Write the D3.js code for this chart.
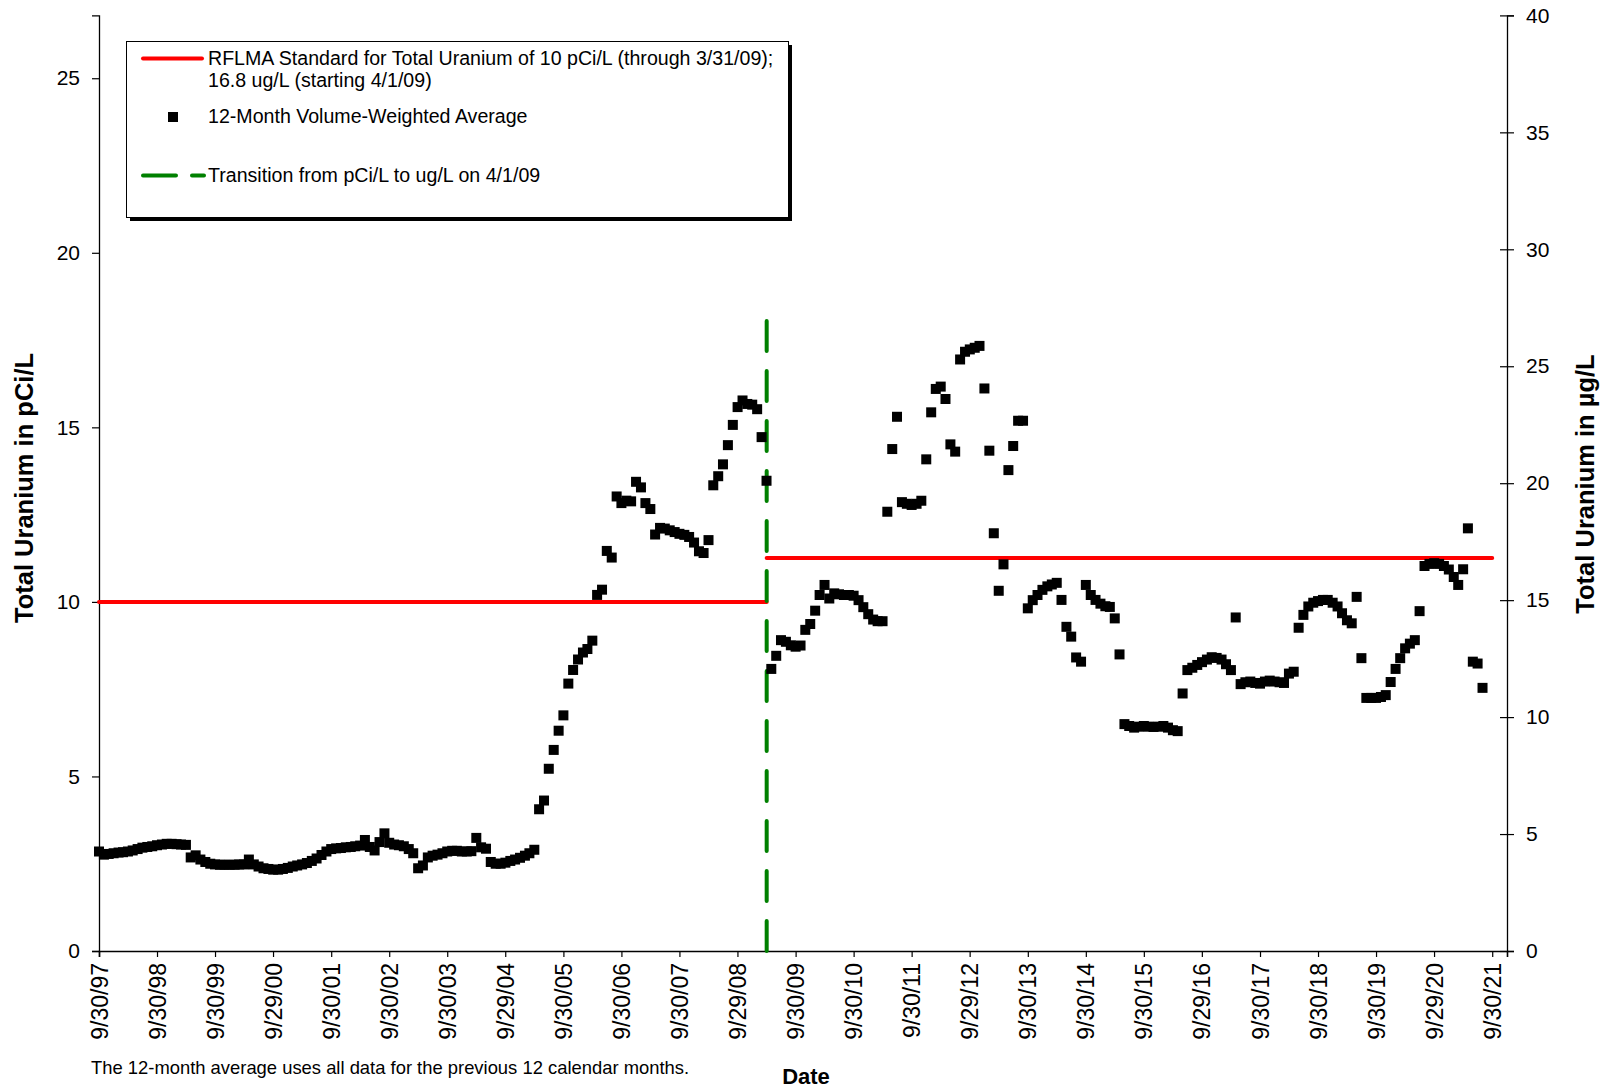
<!DOCTYPE html>
<html>
<head>
<meta charset="utf-8">
<script src="https://cdn.jsdelivr.net/npm/d3@7"></script>
<style>
  body { margin: 0; background: #fff; }
  svg { display: block; font-family: "Liberation Sans", Arial, sans-serif; }
</style>
</head>
<body>
<svg width="1610" height="1090"></svg>
<script>
// 12-month volume-weighted averages, one per month-end, first point 9/30/97
var firstYear = 1997
var firstMonth = 9 // september

// pCi/L, 9/30/97 through 3/31/09
var pciValues = [
  2.85, 2.76, 2.78, 2.80, 2.82, 2.83, 2.85, 2.88, 2.92, 2.96,
  2.98, 3.00, 3.03, 3.05, 3.07, 3.07, 3.06, 3.05, 3.04, 2.68,
  2.74, 2.62, 2.55, 2.50, 2.48, 2.47, 2.47, 2.47, 2.47, 2.48,
  2.48, 2.62, 2.48, 2.42, 2.37, 2.35, 2.33, 2.33, 2.35, 2.38,
  2.42, 2.45, 2.48, 2.52, 2.58, 2.65, 2.75, 2.85, 2.92, 2.94,
  2.95, 2.97, 2.98, 3.00, 3.02, 3.18, 2.98, 2.88, 3.12, 3.37,
  3.10, 3.05, 3.03, 3.00, 2.92, 2.80, 2.37, 2.45, 2.68, 2.73,
  2.76, 2.80, 2.85, 2.87, 2.87, 2.85, 2.85, 2.86, 3.24, 2.97,
  2.93, 2.55, 2.50, 2.50, 2.53, 2.58, 2.62, 2.67, 2.73, 2.80,
  2.90, 4.06, 4.31, 5.22, 5.76, 6.31, 6.75, 7.66, 8.05, 8.35,
  8.55, 8.65, 8.89, 10.20, 10.35, 11.46, 11.27, 13.02, 12.83, 12.90,
  12.88, 13.44, 13.28, 12.83, 12.66, 11.93, 12.12, 12.10, 12.05, 12.00,
  11.95, 11.92, 11.86, 11.70, 11.45, 11.40, 11.77, 13.34, 13.60, 13.94,
  14.49, 15.07, 15.58, 15.77, 15.67, 15.65, 15.52, 14.72, 13.47
]

// ug/L, 4/30/09 onward
var ugValues = [
  12.06, 12.62, 13.29, 13.22, 13.07, 13.01, 13.06, 13.73, 13.98, 14.55,
  15.22, 15.65, 15.07, 15.29, 15.25, 15.22, 15.22, 15.19, 15.00, 14.70,
  14.40, 14.17, 14.10, 14.10, 18.78, 21.46, 22.84, 19.19, 19.12, 19.07,
  19.12, 19.25, 21.02, 23.03, 24.03, 24.13, 23.60, 21.66, 21.35, 25.29,
  25.62, 25.72, 25.79, 25.87, 24.05, 21.39, 17.86, 15.40, 16.53, 20.56,
  21.59, 22.67, 22.67, 14.65, 15.00, 15.22, 15.44, 15.59, 15.67, 15.74,
  15.01, 13.86, 13.44, 12.55, 12.37, 15.65, 15.22, 15.01, 14.85, 14.74,
  14.71, 14.22, 12.68, 9.70, 9.62, 9.55, 9.59, 9.62, 9.59, 9.58,
  9.59, 9.62, 9.55, 9.44, 9.40, 11.01, 12.01, 12.11, 12.23, 12.35,
  12.46, 12.56, 12.53, 12.46, 12.26, 12.01, 14.26, 11.41, 11.49, 11.52,
  11.46, 11.43, 11.52, 11.56, 11.52, 11.49, 11.46, 11.86, 11.94, 13.82,
  14.37, 14.73, 14.89, 14.96, 15.01, 15.01, 14.89, 14.73, 14.44, 14.14,
  14.01, 15.14, 12.52, 10.82, 10.82, 10.82, 10.86, 10.94, 11.50, 12.06,
  12.52, 12.94, 13.14, 13.29, 14.53, 16.46, 16.55, 16.58, 16.55, 16.46,
  16.31, 15.99, 15.65, 16.32, 18.07, 12.37, 12.29, 11.25
]

var xTickLabels = ['9/30/97', '9/30/98', '9/30/99', '9/29/00', '9/30/01', '9/30/02',
  '9/30/03', '9/29/04', '9/30/05', '9/30/06', '9/30/07', '9/29/08', '9/30/09',
  '9/30/10', '9/30/11', '9/29/12', '9/30/13', '9/30/14', '9/30/15', '9/29/16',
  '9/30/17', '9/30/18', '9/30/19', '9/29/20', '9/30/21']
var leftTicks = [0, 5, 10, 15, 20, 25]
var rightTicks = [0, 5, 10, 15, 20, 25, 30, 35, 40]

var axisStart = '9/30/97'
var axisEnd = '1/1/22'
var leftMax = 26.8 // 40 ug/L * 0.67 pCi/ug
var rightMax = 40

var standardPci = 10
var standardUg = 16.8
var transitionDate = '4/1/09'
var standardEnd = '9/30/21'
var transitionTop = 27 // ug/L

var parse = d3.timeParse('%m/%d/%y')

var svg = d3.select('svg')
svg.append('rect').attr('width', 1610).attr('height', 1090).attr('fill', '#fff')

var x = d3.scaleTime()
  .domain([parse(axisStart), parse(axisEnd)])
  .range([99, 1507])

var yL = d3.scaleLinear().domain([0, leftMax]).range([951, 15.4])
var yR = d3.scaleLinear().domain([0, rightMax]).range([951, 15.4])

function monthEnd (i) {
  return new Date(firstYear, firstMonth + i, 0)
}

var pciPoints = pciValues.map(function (v, i) {
  return { date: monthEnd(i), v: v }
})
var ugPoints = ugValues.map(function (v, i) {
  return { date: monthEnd(pciValues.length + i), v: v }
})

// axes
var axL = svg.append('g')
  .attr('transform', 'translate(99,0)')
  .call(d3.axisLeft(yL).tickValues(leftTicks).tickSize(7).tickPadding(12).tickFormat(d3.format('d')))
var axR = svg.append('g')
  .attr('transform', 'translate(1507,0)')
  .call(d3.axisRight(yR).tickValues(rightTicks).tickSize(7).tickPadding(12).tickFormat(d3.format('d')))
axR.selectAll('.tick line').attr('x1', -7)

var axB = svg.append('g')
  .attr('transform', 'translate(0,951)')
  .call(d3.axisBottom(x).tickValues(xTickLabels.map(parse)).tickSize(6)
    .tickFormat(function (d, i) { return xTickLabels[i] }))

;[axL, axR, axB].forEach(function (g) {
  g.select('.domain').attr('stroke', '#000').attr('stroke-width', 1.3)
  g.selectAll('.tick line').attr('stroke', '#000').attr('stroke-width', 1.2)
  g.selectAll('text').attr('fill', '#000').style('font-family', '"Liberation Sans", Arial, sans-serif')
})
axL.selectAll('text').style('font-size', '21px')
axR.selectAll('text').style('font-size', '21px')
axB.select('.domain').attr('stroke-width', 1.6)
axB.selectAll('text')
  .style('font-size', '23px')
  .attr('text-anchor', 'end')
  .attr('dy', null)
  .attr('y', 0)
  .attr('transform', 'translate(8,12) rotate(-90)')

// standard lines
var stdData = [
  { a: parse(axisStart), b: parse(transitionDate), y: yL(standardPci) },
  { a: parse(transitionDate), b: parse(standardEnd), y: yR(standardUg) }
]
svg.selectAll('line.std')
  .data(stdData)
  .enter()
  .append('line')
  .attr('class', 'std')
  .attr('x1', function (d) { return x(d.a) })
  .attr('x2', function (d) { return x(d.b) })
  .attr('y1', function (d) { return d.y })
  .attr('y2', function (d) { return d.y })
  .style('stroke', '#ff0000')
  .style('stroke-width', 4)
  .style('stroke-linecap', 'round')

// transition line
svg.append('line')
  .attr('x1', x(parse(transitionDate)))
  .attr('x2', x(parse(transitionDate)))
  .attr('y1', yR(0))
  .attr('y2', yR(transitionTop))
  .style('stroke', '#008000')
  .style('stroke-width', 4)
  .style('stroke-dasharray', '30,20')
  .style('stroke-linecap', 'round')

// points
var ms = 10
svg.append('g').selectAll('rect')
  .data(pciPoints)
  .enter()
  .append('rect')
  .attr('x', function (d) { return x(d.date) - ms / 2 })
  .attr('y', function (d) { return yL(d.v) - ms / 2 })
  .attr('width', ms).attr('height', ms)
  .style('fill', '#000')
svg.append('g').selectAll('rect')
  .data(ugPoints)
  .enter()
  .append('rect')
  .attr('x', function (d) { return x(d.date) - ms / 2 })
  .attr('y', function (d) { return yR(d.v) - ms / 2 })
  .attr('width', ms).attr('height', ms)
  .style('fill', '#000')

// titles
svg.append('text')
  .attr('transform', 'translate(33,488) rotate(-90)')
  .attr('text-anchor', 'middle')
  .style('font-size', '25.5px').style('font-weight', 'bold')
  .text('Total Uranium in pCi/L')
svg.append('text')
  .attr('transform', 'translate(1594,484) rotate(-90)')
  .attr('text-anchor', 'middle')
  .style('font-size', '25.5px').style('font-weight', 'bold')
  .text('Total Uranium in \u00b5g/L')
svg.append('text')
  .attr('x', 806).attr('y', 1084)
  .attr('text-anchor', 'middle')
  .style('font-size', '22px').style('font-weight', 'bold')
  .text('Date')
svg.append('text')
  .attr('x', 91).attr('y', 1074)
  .style('font-size', '18.4px')
  .text('The 12-month average uses all data for the previous 12 calendar months.')

// legend
var lg = svg.append('g')
lg.append('rect').attr('x', 130).attr('y', 45).attr('width', 662).attr('height', 176).attr('fill', '#000')
lg.append('rect').attr('x', 126.5).attr('y', 41.5).attr('width', 662).attr('height', 176)
  .attr('fill', '#fff').attr('stroke', '#000').attr('stroke-width', 1)
lg.append('line').attr('x1', 143).attr('x2', 202).attr('y1', 58.5).attr('y2', 58.5)
  .style('stroke', '#ff0000').style('stroke-width', 4).style('stroke-linecap', 'round')
lg.append('rect').attr('x', 168).attr('y', 112).attr('width', ms).attr('height', ms).style('fill', '#000')
lg.append('line').attr('x1', 143).attr('x2', 204).attr('y1', 175.5).attr('y2', 175.5)
  .style('stroke', '#008000').style('stroke-width', 4)
  .style('stroke-dasharray', '33,16').style('stroke-linecap', 'round')
var legendText = [
  ['RFLMA Standard for Total Uranium of 10 pCi/L (through 3/31/09);', 65],
  ['16.8 ug/L (starting 4/1/09)', 86.5],
  ['12-Month Volume-Weighted Average', 123],
  ['Transition from pCi/L to ug/L on 4/1/09', 181.5]
]
lg.selectAll('text.lt')
  .data(legendText)
  .enter()
  .append('text')
  .attr('class', 'lt')
  .attr('x', 208)
  .attr('y', function (d) { return d[1] })
  .style('font-size', '19.6px')
  .text(function (d) { return d[0] })
</script>
</body>
</html>
